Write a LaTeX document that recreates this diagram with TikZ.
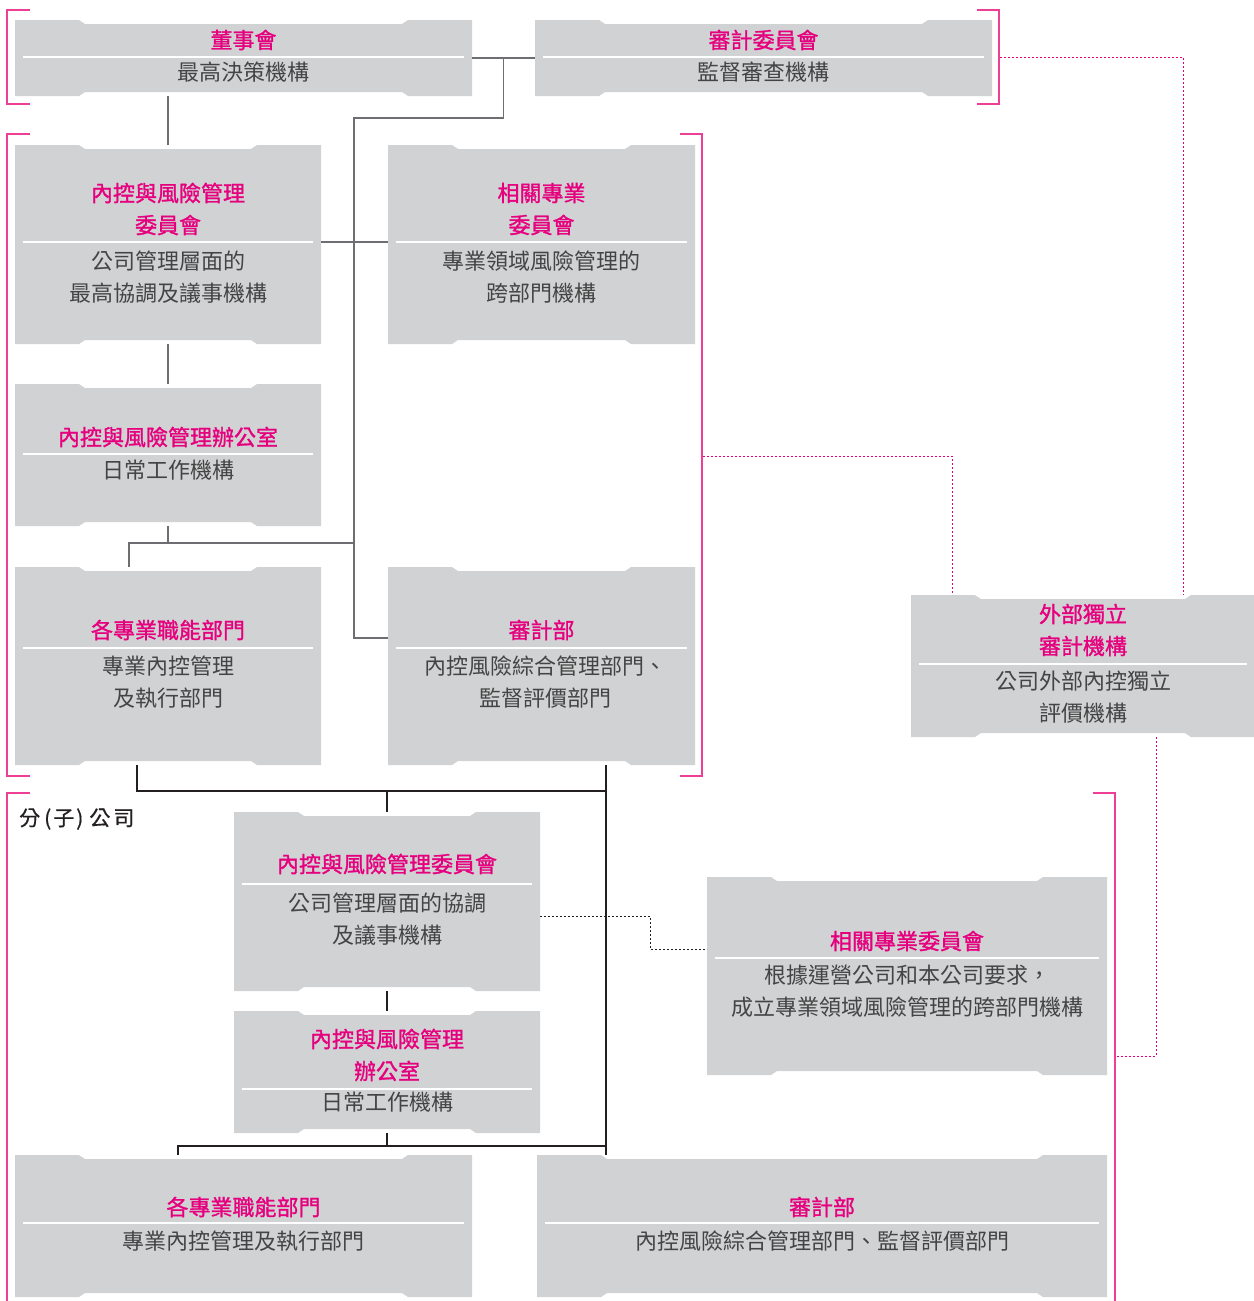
\documentclass[tikz,border=0pt]{standalone}
\usepackage{fontspec}
\setmainfont{Noto Sans CJK TC}
\newfontfamily\ttlfont{Noto Sans CJK TC}[FakeBold=1.2]
\newfontfamily\lblfont{Noto Sans CJK TC}[FakeBold=0.6]
\usetikzlibrary{calc}
\definecolor{boxgray}{HTML}{D1D2D4}
\definecolor{mag}{HTML}{E6007E}
\definecolor{brk}{HTML}{EE3E96}
\definecolor{subc}{HTML}{444444}
\definecolor{lineg}{HTML}{6D6E71}
\definecolor{lined}{HTML}{231F20}
\tikzset{
  bonebox/.style={rectangle, inner sep=0pt, outer sep=0pt, anchor=north west,
    path picture={
      \fill[boxgray] let \p1=(path picture bounding box.south west), \p2=(path picture bounding box.north east) in
        (\x1,\y1) -- (\x1,\y2) -- (\x1+64pt,\y2) -- (\x1+70pt,\y2-4pt) -- (\x2-70pt,\y2-4pt) -- (\x2-64pt,\y2)
        -- (\x2,\y2) -- (\x2,\y1) -- (\x2-64pt,\y1) -- (\x2-70pt,\y1+4pt) -- (\x1+70pt,\y1+4pt) -- (\x1+64pt,\y1) -- cycle;
    }},
  ttl/.style={text=mag, font=\fontsize{22}{32}\selectfont\ttlfont, align=center, inner sep=0pt},
  subt/.style={text=subc, font=\fontsize{22}{32}\selectfont, align=center, inner sep=0pt},
  sepline/.style={draw=white, line width=1.3pt},
  conn/.style={draw=lineg, line width=1.3pt},
  conndark/.style={draw=lined, line width=1.2pt},
  mdot/.style={draw=mag, line width=1pt, dash pattern=on 2pt off 2pt},
  kdot/.style={draw=lined, line width=1pt, dash pattern=on 2pt off 2pt},
  bracket/.style={draw=brk, line width=2pt},
}
\begin{document}
\begin{tikzpicture}[x=1pt,y=-1pt]
\useasboundingbox (0,0) rectangle (1253,1301);

% ---------- brackets ----------
\draw[bracket] (30,10) -- (7,10) -- (7,104) -- (30,104);
\draw[bracket] (977,10) -- (999,10) -- (999,104) -- (977,104);
\draw[bracket] (30,134) -- (7,134) -- (7,776) -- (30,776);
\draw[bracket] (680,134) -- (702,134) -- (702,776) -- (680,776);
\draw[bracket] (30,793) -- (7,793) -- (7,1305);
\draw[bracket] (1093,793) -- (1115,793) -- (1115,1305);
\coordinate (brB) at (1000,57);
\coordinate (brM) at (703,456);
\coordinate (brS) at (1116,1056);

% ---------- boxes ----------
\node[bonebox, minimum width=457pt, minimum height=76pt] (A) at (15,20) {};
\node[bonebox, minimum width=457pt, minimum height=76pt] (B) at (535,20) {};
\node[bonebox, minimum width=306pt, minimum height=199pt] (C) at (15,145) {};
\node[bonebox, minimum width=307pt, minimum height=199pt] (D) at (388,145) {};
\node[bonebox, minimum width=306pt, minimum height=142pt] (O) at (15,384) {};
\node[bonebox, minimum width=306pt, minimum height=198pt] (E) at (15,567) {};
\node[bonebox, minimum width=307pt, minimum height=198pt] (F) at (388,567) {};
\node[bonebox, minimum width=344pt, minimum height=142pt] (G) at (911,595) {};
\node[bonebox, minimum width=306pt, minimum height=179pt] (H) at (234,812) {};
\node[bonebox, minimum width=400pt, minimum height=198pt] (I) at (707,877) {};
\node[bonebox, minimum width=306pt, minimum height=122pt] (J) at (234,1011) {};
\node[bonebox, minimum width=457pt, minimum height=142pt] (K) at (15,1155) {};
\node[bonebox, minimum width=570pt, minimum height=142pt] (L) at (537,1155) {};

% ---------- separators ----------
\draw[sepline] (23,57) -- (464,57);
\draw[sepline] (543,57) -- (984,57);
\draw[sepline] (23,242) -- (313,242);
\draw[sepline] (396,242) -- (687,242);
\draw[sepline] (23,454) -- (313,454);
\draw[sepline] (23,648) -- (313,648);
\draw[sepline] (396,648) -- (687,648);
\draw[sepline] (919,664) -- (1247,664);
\draw[sepline] (242,884) -- (532,884);
\draw[sepline] (715,958) -- (1099,958);
\draw[sepline] (242,1089) -- (532,1089);
\draw[sepline] (23,1223) -- (464,1223);
\draw[sepline] (545,1223) -- (1099,1223);

% ---------- texts ----------
\node[ttl] (A-t) at (243.5,40) {董事會};
\node[subt] (A-s) at (243.5,72) {最高決策機構};
\node[ttl] (B-t) at (763.5,40) {審計委員會};
\node[subt] (B-s) at (763.5,72) {監督審查機構};
\node[ttl] (C-t) at (168,209) {內控與風險管理\\委員會};
\node[subt] (C-s) at (168,277) {公司管理層面的\\最高協調及議事機構};
\node[ttl] (D-t) at (541.5,209) {相關專業\\委員會};
\node[subt] (D-s) at (541.5,277) {專業領域風險管理的\\跨部門機構};
\node[ttl] (O-t) at (168,437) {內控與風險管理辦公室};
\node[subt] (O-s) at (168,470) {日常工作機構};
\node[ttl] (E-t) at (168,630) {各專業職能部門};
\node[subt] (E-s) at (168,682) {專業內控管理\\及執行部門};
\node[ttl] (F-t) at (541.5,630) {審計部};
\node[subt] (F-s) at (545,682) {內控風險綜合管理部門、\\監督評價部門};
\node[ttl] (G-t) at (1083,630) {外部獨立\\審計機構};
\node[subt] (G-s) at (1083,697) {公司外部內控獨立\\評價機構};
\node[ttl] (H-t) at (387,864) {內控與風險管理委員會};
\node[subt] (H-s) at (387,919) {公司管理層面的協調\\及議事機構};
\node[ttl] (I-t) at (907,941) {相關專業委員會};
\node[subt] (I-s) at (907,991) {根據運營公司和本公司要求，\\成立專業領域風險管理的跨部門機構};
\node[ttl] (J-t) at (387,1055) {內控與風險管理\\辦公室};
\node[subt] (J-s) at (387,1102) {日常工作機構};
\node[ttl] (K-t) at (243.5,1207) {各專業職能部門};
\node[subt] (K-s) at (243.5,1241) {專業內控管理及執行部門};
\node[ttl] (L-t) at (822,1207) {審計部};
\node[subt] (L-s) at (822,1241) {內控風險綜合管理部門、監督評價部門};
\node[anchor=west, inner sep=0pt, text=lined, font=\fontsize{21}{21}\selectfont\lblfont] (sub-lbl) at (19,819) {分\kern4pt(\kern2pt子\kern2pt)\kern6pt公\kern3pt司};

% ---------- connectors (upper) ----------
\coordinate (spine) at (354,118);
\coordinate (ej) at (129,543);
\draw[conn] (A.east) -- (B.west);
\draw[conn] ($(A.east)!.5!(B.west)$) |- (spine) |- ([yshift=28pt]F.west);
\draw[conn] (C.north) -- (C.north |- A.south);
\draw[conn] ([yshift=2.5pt]C.east) -- ([yshift=2.5pt]D.west);
\draw[conn] (C.south) -- (O.north);
\draw[conn] (O.south) |- (ej) -- (ej |- E.north);
\draw[conn] (ej) -- (spine |- ej);

% ---------- connectors (lower) ----------
\coordinate (bj) at (137,791);
\coordinate (rj) at (606,791);
\coordinate (kj) at (178,1146);
\draw[conndark] (bj |- E.south) -- (bj) -- (rj);
\draw[conndark] (rj |- F.south) -- (rj |- L.north);
\draw[conndark] (H.north |- bj) -- (H.north);
\draw[conndark] (H.south) -- (J.north);
\draw[conndark] (J.south) -- (J.south |- kj);
\draw[conndark] (kj |- K.north) -- (kj) -- (kj -| rj);

% ---------- dotted links ----------
\draw[kdot] ([yshift=-14.5pt]H.east) -- ++(110,0) |- ([yshift=27pt]I.west);
\draw[mdot] (brB) -| ([xshift=100pt]G.north);
\draw[mdot] (brM) -| ([xshift=-131pt]G.north);
\draw[mdot] ([xshift=73pt]G.south) |- (brS);
\end{tikzpicture}
\end{document}
